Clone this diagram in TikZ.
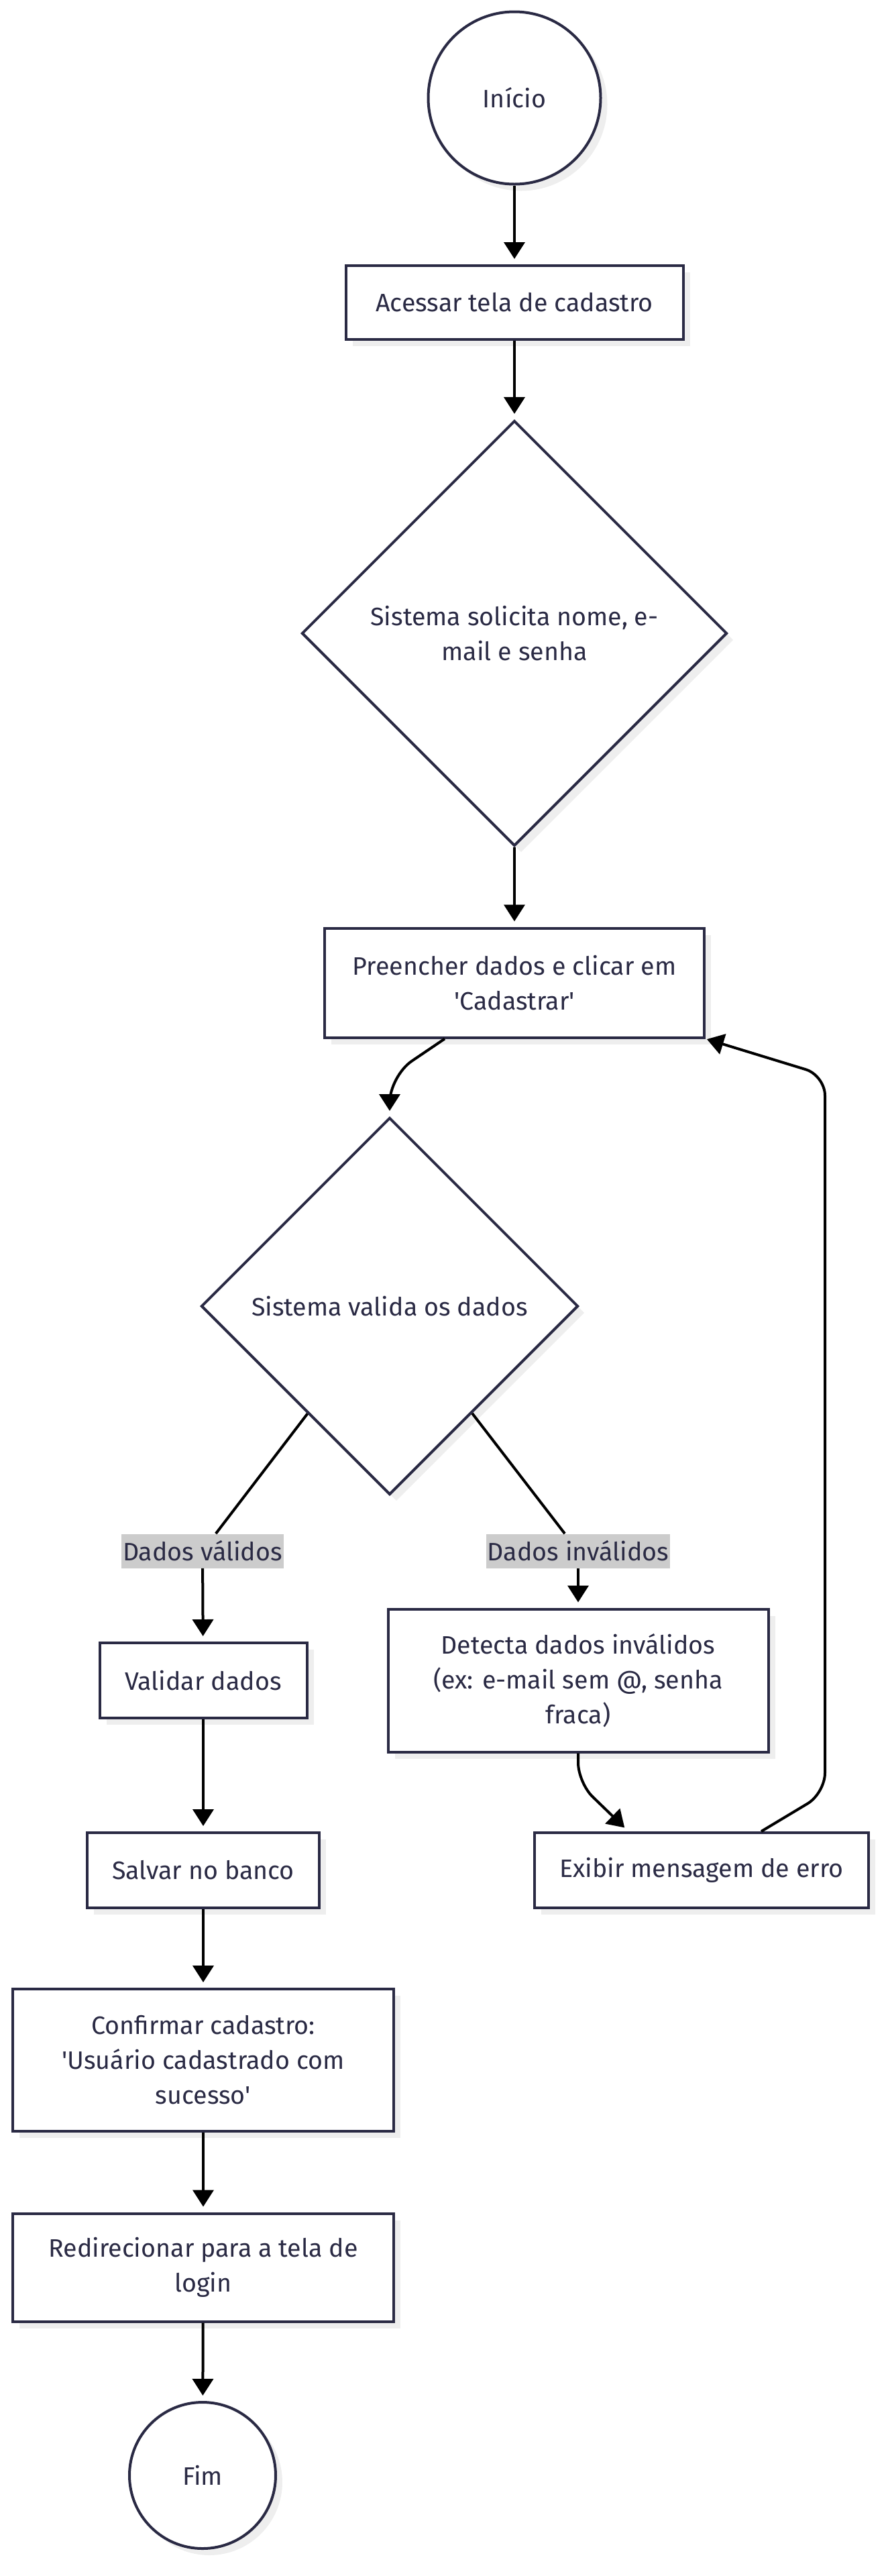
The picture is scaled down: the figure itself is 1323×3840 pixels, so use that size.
\documentclass[tikz,border=0pt]{standalone}
\usepackage{fontspec}
\setmainfont{Fira Sans}
\usetikzlibrary{shapes.geometric,arrows.meta,shadows}
\definecolor{ink}{HTML}{2A2A44}
\definecolor{shade}{HTML}{EEEEEE}
\definecolor{lblfill}{HTML}{CCCCCC}

\begin{document}
\begin{tikzpicture}[x=0.5pt,y=-0.5pt]
\tikzstyle{every node}+=[inner sep=0pt, text=ink, font=\fontsize{18.8}{26}\selectfont, align=center]
\tikzstyle{box}=[draw=ink, line width=2pt, fill=white, drop shadow={shadow xshift=5pt, shadow yshift=-5pt, fill=shade, opacity=1}]
\tikzstyle{term}=[box, circle]
\tikzstyle{choice}=[box, diamond, aspect=1]
\tikzstyle{lbl}=[fill=lblfill, inner xsep=1pt, minimum height=25.5pt]
\tikzstyle{line}=[black, line width=2pt]
\tikzstyle{arrow}=[line, -{Triangle[length=12.5pt,width=15.5pt]}, shorten >=4pt]
\useasboundingbox (0,0) rectangle (1323,3840);
\node[term, minimum size=128.5pt] (ini) at (767,146) {Início};
\node[box, minimum width=251.5pt, minimum height=55pt] (acc) at (767,451) {Acessar tela de cadastro};
\node[choice, minimum size=317pt] (sol) at (767,944) {Sistema solicita nome, e-\\mail e senha};
\node[box, minimum width=283pt, minimum height=81.5pt] (pre) at (767,1465) {Preencher dados e clicar em\\\textquotesingle Cadastrar\textquotesingle};
\node[choice, minimum size=281pt] (val) at (581,1947) {Sistema valida os dados};
\node[lbl, minimum width=116.5pt] (ok) at (302,2312) {Dados válidos};
\node[lbl, minimum width=132.5pt] (bad) at (862,2312) {Dados inválidos};
\node[box, minimum width=154.5pt, minimum height=56pt] (vld) at (303,2505) {Validar dados};
\node[box, minimum width=283.5pt, minimum height=106.5pt] (det) at (862,2505) {Detecta dados inválidos\\(ex: e-mail sem @, senha\\fraca)};
\node[box, minimum width=173pt, minimum height=56pt] (sal) at (303,2788) {Salvar no banco};
\node[box, minimum width=249pt, minimum height=56pt] (err) at (1046,2788) {Exibir mensagem de erro};
\node[box, minimum width=284pt, minimum height=106pt] (con) at (303,3071) {Confirmar cadastro:\\\textquotesingle Usuário cadastrado com\\sucesso\textquotesingle};
\node[box, minimum width=284pt, minimum height=80.5pt] (red) at (303,3380) {Redirecionar para a tela de\\login};
\node[term, minimum size=109pt] (fim) at (302,3690) {Fim};
\draw[arrow] (ini) -- (acc);
\draw[arrow] (acc) -- (sol);
\draw[arrow] (sol) -- (pre);
\draw[arrow, rounded corners=20pt] ([xshift=-52pt]pre.south) -- ([yshift=30pt]val.north) -- (val.north);
\draw[line] (val) -- (ok);
\draw[arrow] (ok) -- (vld);
\draw[line] (val) -- (bad);
\draw[arrow] (bad) -- (det);
\draw[arrow] (vld) -- (sal);
\draw[arrow] (sal) -- (con);
\draw[arrow] (con) -- (red);
\draw[arrow] (red) -- (fim);
\draw[arrow, rounded corners=15pt] (det.south) -- ([yshift=-22pt]det.south) -- ([xshift=-54.5pt]err.north);
\draw[arrow, rounded corners=15pt, shorten >=1pt] ([xshift=44.5pt]err.north) -- (1230,2673) -- (1230,1603) -- (pre.south east);
\end{tikzpicture}
\end{document}
